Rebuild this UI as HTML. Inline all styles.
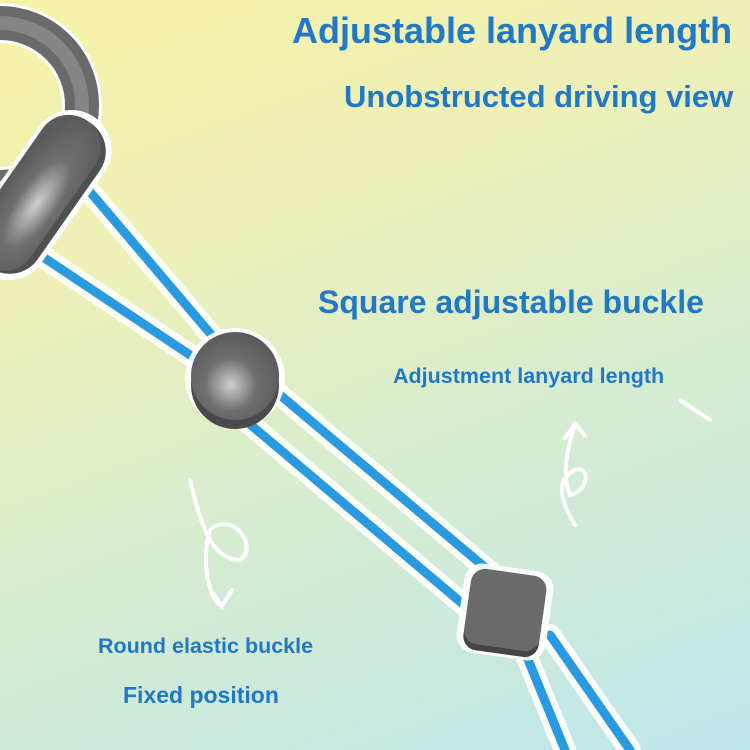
<!DOCTYPE html>
<html><head><style>
html,body{margin:0;padding:0}
body{width:750px;height:750px;position:relative;overflow:hidden;font-family:"Liberation Sans",sans-serif;
background:linear-gradient(160deg,#f6f2a8 0%,#eef0b8 30%,#d6ecd0 60%,#bfe6ea 100%);}
.t{position:absolute;color:#1f78c8;font-weight:bold;white-space:nowrap}
svg{position:absolute;left:0;top:0}
</style></head><body>
<svg width="750" height="750">
<defs>
<radialGradient id="g" cx="0.45" cy="0.6" r="0.6"><stop offset="0" stop-color="#cfcfcf"/><stop offset="0.5" stop-color="#6e6e6e"/><stop offset="1" stop-color="#5a5a5a"/></radialGradient>
</defs>
<g stroke="#fff" stroke-width="22" stroke-linecap="round" fill="none" opacity="0.9">
<line x1="25" y1="245" x2="205" y2="365"/><line x1="80" y1="180" x2="220" y2="345"/>
<line x1="245" y1="420" x2="470" y2="610"/><line x1="280" y1="395" x2="500" y2="580"/>
<line x1="520" y1="640" x2="565" y2="750"/><line x1="550" y1="635" x2="630" y2="750"/>
</g>
<g stroke="#2a9ae0" stroke-width="9" stroke-linecap="round" fill="none">
<line x1="25" y1="245" x2="205" y2="365"/><line x1="80" y1="180" x2="220" y2="345"/>
<line x1="245" y1="420" x2="470" y2="610"/><line x1="280" y1="395" x2="500" y2="580"/>
<line x1="520" y1="640" x2="565" y2="750"/><line x1="550" y1="635" x2="630" y2="750"/>
</g>
<circle cx="0" cy="105" r="82" fill="none" stroke="#fff" stroke-width="40"/>
<circle cx="0" cy="105" r="82" fill="none" stroke="#6a6a6a" stroke-width="34"/>
<circle cx="0" cy="105" r="82" fill="none" stroke="#858585" stroke-width="14"/>
<g transform="translate(40,195) rotate(-55)">
<rect x="-95" y="-40" width="190" height="80" rx="40" fill="#fff"/>
<rect x="-88" y="-33" width="176" height="68" rx="34" fill="#505050"/>
<rect x="-88" y="-36" width="176" height="64" rx="32" fill="url(#g)"/>
</g>
<circle cx="235" cy="378" r="50" fill="#fff" opacity="0.9"/>
<circle cx="235" cy="385" r="44" fill="#4a4a4a"/>
<circle cx="235" cy="376" r="44" fill="url(#g)"/>
<g transform="translate(505,612) rotate(8)">
<rect x="-45" y="-45" width="90" height="90" rx="18" fill="#fff" opacity="0.9"/>
<rect x="-38" y="-34" width="76" height="76" rx="14" fill="#444"/>
<rect x="-38" y="-40" width="76" height="76" rx="14" fill="#6a6a6a"/>
</g>
<g stroke="#fff" stroke-width="4" fill="none" stroke-linecap="round">
<path d="M190 480 C200 520 210 560 240 560 C260 545 230 510 210 530 C200 560 210 600 220 605"/>
<path d="M212 592 L222 606 L232 590"/>
<path d="M575 525 C560 500 555 480 575 470 C590 465 590 490 570 495 C560 470 570 440 575 425"/>
<path d="M565 438 L575 424 L585 436"/>
<path d="M680 400 L710 420"/>
</g>
</svg>
<div class="t" style="left:292px;top:10px;font-size:36px">Adjustable lanyard length</div>
<div class="t" style="left:344px;top:79px;font-size:31px">Unobstructed driving view</div>
<div class="t" style="left:318px;top:284px;font-size:32px">Square adjustable buckle</div>
<div class="t" style="left:393px;top:364px;font-size:21.5px">Adjustment lanyard length</div>
<div class="t" style="left:98px;top:634px;font-size:21.5px">Round elastic buckle</div>
<div class="t" style="left:123px;top:682px;font-size:23px">Fixed position</div>
</body></html>
